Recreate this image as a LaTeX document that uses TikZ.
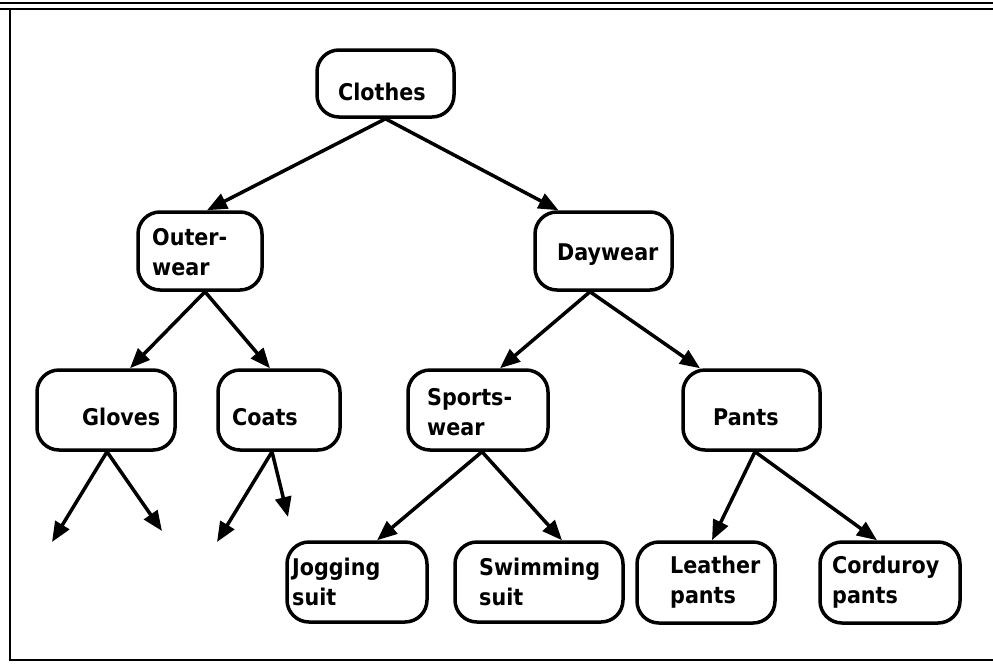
\documentclass[tikz,border=0pt]{standalone}
\usepackage{fontspec}
\setmainfont{DejaVu Sans Condensed}
\usetikzlibrary{arrows.meta}
\begin{document}
\begin{tikzpicture}[x=1pt,y=-1pt,
  box/.style={draw,line width=3.5pt,rounded corners=22pt,inner sep=0pt},
  txt/.style={anchor=base west,inner sep=0pt,font=\fontsize{23}{30}\selectfont\bfseries},
  link/.style={line width=3.5pt,-{Triangle[length=20pt,width=16pt]}},
  frame/.style={line width=2pt}]
\useasboundingbox (0,0) rectangle (993,667);
\draw[frame] (0,3) -- (993,3) (0,9) -- (993,9);
\draw[frame] (10,9) -- (10,660) -- (993,660);

% boxes
\node[box,minimum width=137pt,minimum height=67pt] (clothes) at (385.5,83.5) {};
\node[box,minimum width=124pt,minimum height=78pt] (outer) at (200,251) {};
\node[box,minimum width=137pt,minimum height=78pt] (day) at (603.5,251) {};
\node[box,minimum width=138pt,minimum height=80pt] (gloves) at (106,410) {};
\node[box,minimum width=122pt,minimum height=80pt] (coats) at (279,410) {};
\node[box,minimum width=140pt,minimum height=80pt] (sports) at (478,410) {};
\node[box,minimum width=137pt,minimum height=80pt] (pants) at (751.5,410) {};
\node[box,minimum width=140pt,minimum height=80pt] (jog) at (357,582) {};
\node[box,minimum width=168pt,minimum height=80pt] (swim) at (539,582) {};
\node[box,minimum width=138pt,minimum height=81pt] (leather) at (706,582.5) {};
\node[box,minimum width=140pt,minimum height=81pt] (cord) at (890,582.5) {};

% labels
\node[txt] (clothesT) at (338,100) {Clothes};
\node[txt] (outerT1) at (152,245) {Outer-};
\node[txt] (outerT2) at (152,275) {wear};
\node[txt] (dayT) at (557,260) {Daywear};
\node[txt] (glovesT) at (82,425) {Gloves};
\node[txt] (coatsT) at (232,425) {Coats};
\node[txt] (sportsT1) at (427,405) {Sports-};
\node[txt] (sportsT2) at (427,435) {wear};
\node[txt] (pantsT) at (713,425) {Pants};
\node[txt] (jogT1) at (292,575) {Jogging};
\node[txt] (jogT2) at (292,605) {suit};
\node[txt] (swimT1) at (479,575) {Swimming};
\node[txt] (swimT2) at (479,605) {suit};
\node[txt] (leatherT1) at (670,573) {Leather};
\node[txt] (leatherT2) at (670,603) {pants};
\node[txt] (cordT1) at (832,573) {Corduroy};
\node[txt] (cordT2) at (832,603) {pants};

% free ends
\coordinate (g1) at (52,542);
\coordinate (g2) at (162,531);
\coordinate (c1) at (217,542);
\coordinate (c2) at (288,517);

% connectors
\draw[link] (clothes.south) -- ([xshift=7pt]outer.north);
\draw[link] (clothes.south) -- ([xshift=-45pt]day.north);
\draw[link] ([xshift=5pt]outer.south) -- ([xshift=24pt]gloves.north);
\draw[link] ([xshift=5pt]outer.south) -- ([xshift=-9pt]coats.north);
\draw[link] ([xshift=-13.5pt]day.south) -- ([xshift=22pt]sports.north);
\draw[link] ([xshift=-13.5pt]day.south) -- ([xshift=-51.5pt]pants.north);
\draw[link] ([xshift=1pt]gloves.south) -- (g1);
\draw[link] ([xshift=1pt]gloves.south) -- (g2);
\draw[link] ([xshift=-7pt]coats.south) -- (c1);
\draw[link] ([xshift=-7pt]coats.south) -- (c2);
\draw[link] ([xshift=4pt]sports.south) -- ([xshift=20pt]jog.north);
\draw[link] ([xshift=4pt]sports.south) -- ([xshift=23pt]swim.north);
\draw[link] ([xshift=3.5pt]pants.south) -- ([xshift=6pt]leather.north);
\draw[link] ([xshift=3.5pt]pants.south) -- ([xshift=-13pt]cord.north);
\end{tikzpicture}
\end{document}
